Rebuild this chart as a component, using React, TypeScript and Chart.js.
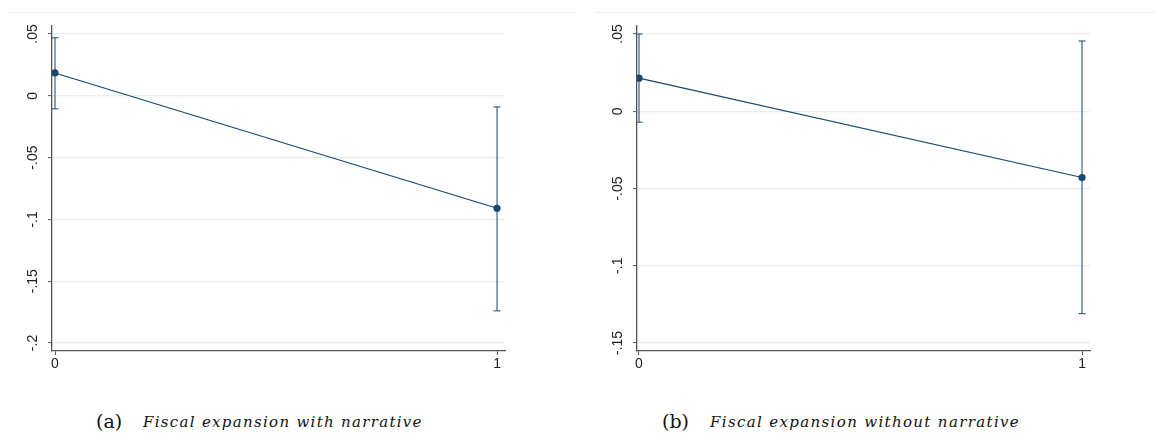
import React, { useEffect, useRef } from "react";
import { Chart, registerables } from "chart.js";

Chart.register(...registerables);

// ---------- data ----------
const xCategories = [0, 1];
const xTickLabels = ["0", "1"];

const meanA = [0.0185, -0.091];
const lowA = [-0.0105, -0.174];
const highA = [0.047, -0.009];
const yTicksA = [-0.2, -0.15, -0.1, -0.05, 0, 0.05];
const yTickLabelsA = ["-.2", "-.15", "-.1", "-.05", "0", ".05"];
const yRangeA = [-0.2065, 0.0565];

const meanB = [0.0214, -0.0429];
const lowB = [-0.0071, -0.131];
const highB = [0.05, 0.0455];
const yTicksB = [-0.15, -0.1, -0.05, 0, 0.05];
const yTickLabelsB = ["-.15", "-.1", "-.05", "0", ".05"];
const yRangeB = [-0.1552, 0.0552];

const captionA = "Fiscal expansion with narrative";
const captionB = "Fiscal expansion without narrative";

const NAVY = "#1a476f";
const CI_COLOR = "#3a6388";
const GRID = "#e6eef0";
const AXIS = "#555555";
const TICKFONT = { family: "Arial, 'Liberation Sans', sans-serif", size: 14 };

type PanelProps = {
  mean: number[];
  low: number[];
  high: number[];
  yTicks: number[];
  yLabels: string[];
  yRange: number[];
  xRange: number[];
  yAxisWidth: number;
  rightPad: number;
  labelPad: number;
  width: number;
  height: number;
};

function Panel(p: PanelProps) {
  const ref = useRef<HTMLCanvasElement | null>(null);
  useEffect(() => {
    if (!ref.current) return;
    const ciSets = xCategories.map((x, i) => ({
      type: "line" as const,
      data: [
        { x, y: p.low[i] },
        { x, y: p.high[i] },
      ],
      borderColor: CI_COLOR,
      borderWidth: 1.2,
      pointStyle: "line" as const,
      pointRadius: 3.5,
      pointBorderColor: CI_COLOR,
      pointBorderWidth: 1.2,
      order: 2,
    }));
    const chart = new Chart(ref.current, {
      type: "line",
      data: {
        datasets: [
          ...ciSets,
          {
            data: xCategories.map((x, i) => ({ x, y: p.mean[i] })),
            borderColor: NAVY,
            borderWidth: 1.2,
            pointRadius: 3.6,
            pointBackgroundColor: NAVY,
            pointBorderColor: NAVY,
            pointBorderWidth: 0,
            order: 1,
          },
        ],
      },
      options: {
        animation: false,
        responsive: false,
        maintainAspectRatio: false,
        layout: { padding: { left: 0, top: 26, right: p.rightPad, bottom: 0 } },
        plugins: { legend: { display: false }, tooltip: { enabled: false } },
        scales: {
          x: {
            type: "linear",
            min: p.xRange[0],
            max: p.xRange[1],
            afterBuildTicks: (s: any) => {
              s.ticks = xCategories.map((v) => ({ value: v }));
            },
            afterFit: (s: any) => {
              s.height = p.height - 351;
            },
            grid: { drawOnChartArea: false, tickLength: 4, tickColor: AXIS, tickWidth: 1 },
            border: { color: AXIS, width: 1.3 },
            ticks: {
              autoSkip: false,
              padding: 1,
              color: "#222",
              font: TICKFONT,
              maxRotation: 0,
              minRotation: 0,
              callback: (v: any) => {
                const idx = xCategories.indexOf(Number(v));
                return idx >= 0 ? xTickLabels[idx] : "";
              },
            },
          },
          y: {
            type: "linear",
            min: p.yRange[0],
            max: p.yRange[1],
            afterBuildTicks: (s: any) => {
              s.ticks = p.yTicks.map((v) => ({ value: v }));
            },
            afterFit: (s: any) => {
              s.width = p.yAxisWidth;
            },
            grid: { color: GRID, lineWidth: 1.2, tickLength: 4, tickColor: AXIS, tickWidth: 1 },
            border: { color: AXIS, width: 1.3 },
            ticks: {
              autoSkip: false,
              crossAlign: "center",
              padding: p.labelPad,
              color: "#222",
              font: TICKFONT,
              minRotation: 90,
              maxRotation: 90,
              callback: (v: any, i: number) => p.yLabels[i],
            },
          },
        },
      },
    } as any);
    return () => chart.destroy();
  }, []);
  return <canvas ref={ref} width={p.width} height={p.height} style={{ display: "block", width: p.width, height: p.height }} />;
}

const captionFont = "'DejaVu Serif', 'Liberation Serif', serif";

export default function App() {
  return (
    <div style={{ position: "fixed", left: 0, top: 0, width: 1159, height: 444, background: "#fff", overflow: "hidden" }}>
      <div style={{ position: "absolute", left: 10, top: 12, width: 565, borderTop: "1px solid #eef2f3" }} />
      <div style={{ position: "absolute", left: 595, top: 12, width: 560, borderTop: "1px solid #eef2f3" }} />
      <div style={{ position: "absolute", left: 0, top: 0 }}>
        <Panel
          mean={meanA}
          low={lowA}
          high={highA}
          yTicks={yTicksA}
          yLabels={yTickLabelsA}
          yRange={yRangeA}
          xRange={[-0.0068, 1.018]}
          yAxisWidth={52}
          rightPad={75}
          labelPad={3}
          width={580}
          height={385}
        />
      </div>
      <div style={{ position: "absolute", left: 580, top: 0 }}>
        <Panel
          mean={meanB}
          low={lowB}
          high={highB}
          yTicks={yTicksB}
          yLabels={yTickLabelsB}
          yRange={yRangeB}
          xRange={[-0.0045, 1.018]}
          yAxisWidth={57}
          rightPad={69}
          labelPad={3}
          width={579}
          height={385}
        />
      </div>
      <div style={{ position: "absolute", left: 96, top: 412, fontFamily: captionFont, fontSize: 19, lineHeight: "19px", color: "#111", whiteSpace: "nowrap" }}>(a)</div>
      <div style={{ position: "absolute", left: 143, top: 415, fontFamily: captionFont, fontStyle: "italic", fontSize: 15, lineHeight: "15px", letterSpacing: "1.3px", color: "#111", whiteSpace: "nowrap" }}>{captionA}</div>
      <div style={{ position: "absolute", left: 662, top: 412, fontFamily: captionFont, fontSize: 19, lineHeight: "19px", color: "#111", whiteSpace: "nowrap" }}>(b)</div>
      <div style={{ position: "absolute", left: 710, top: 415, fontFamily: captionFont, fontStyle: "italic", fontSize: 15, lineHeight: "15px", letterSpacing: "1.35px", color: "#111", whiteSpace: "nowrap" }}>{captionB}</div>
    </div>
  );
}
